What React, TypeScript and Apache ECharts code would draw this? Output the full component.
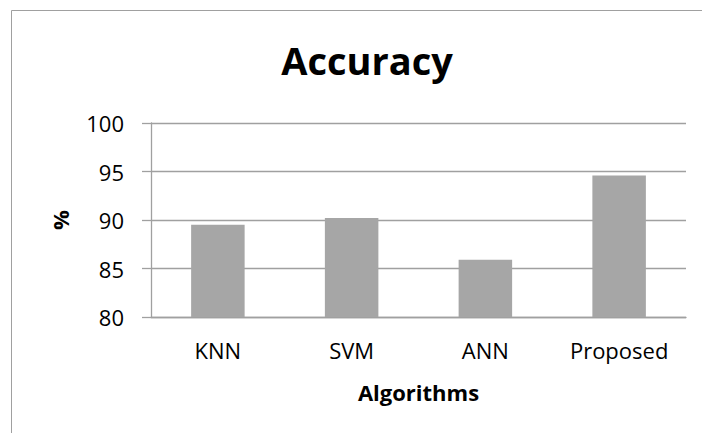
import React, { useEffect, useRef } from "react";
import * as echarts from "echarts";

const categories = ["KNN", "SVM", "ANN", "Proposed"];
const accuracy = [89.5, 90.2, 85.9, 94.6];
const yMin = 80;
const yMax = 100;
const yStep = 5;

const FONT = "'Open Sans', 'DejaVu Sans', sans-serif";

export default function App() {
  const ref = useRef<HTMLDivElement>(null);
  useEffect(() => {
    if (!ref.current) return;
    const chart = echarts.init(ref.current, undefined, { renderer: "svg" });
    chart.setOption({
      animation: false,
      backgroundColor: "#ffffff",
      title: {
        text: "Accuracy",
        left: 362,
        top: 36,
        textAlign: "center",
        textStyle: { fontFamily: FONT, fontWeight: "bold", fontSize: 38, color: "#000" },
      },
      graphic: [
        {
          type: "rect",
          shape: { x: 11.5, y: 10.5, width: 900, height: 600 },
          style: { fill: "none", stroke: "#a0a0a0", lineWidth: 1 },
          silent: true,
        },
      ],
      grid: { left: 151, right: 16, top: 123, bottom: 116 },
      xAxis: {
        type: "category",
        data: categories,
        name: "Algorithms",
        nameLocation: "middle",
        nameGap: 64,
        nameTextStyle: { fontFamily: FONT, fontWeight: "bold", fontSize: 22, color: "#000" },
        axisLine: { lineStyle: { color: "#a0a0a0", width: 1.3 } },
        axisTick: { show: false },
        axisLabel: { margin: 22, fontFamily: FONT, fontSize: 22, color: "#000" },
      },
      yAxis: {
        type: "value",
        min: yMin,
        max: yMax,
        interval: yStep,
        name: "%",
        nameLocation: "middle",
        nameGap: 80,
        nameRotate: 90,
        nameTextStyle: { fontFamily: FONT, fontWeight: "bold", fontSize: 22, color: "#000" },
        axisLine: { show: true, lineStyle: { color: "#a0a0a0", width: 1.3 } },
        axisTick: { show: true, length: 9, lineStyle: { color: "#a0a0a0", width: 1.3 } },
        axisLabel: { margin: 27, fontFamily: FONT, fontSize: 22, color: "#000" },
        splitLine: { lineStyle: { color: "#a0a0a0", width: 1.3 } },
      },
      series: [
        {
          type: "bar",
          data: accuracy,
          barWidth: "40%",
          itemStyle: { color: "#a6a6a6" },
        },
      ],
    });
    return () => chart.dispose();
  }, []);
  return (
    <div
      ref={ref}
      style={{ position: "absolute", left: 0, top: 0, width: 702, height: 433 }}
    />
  );
}
